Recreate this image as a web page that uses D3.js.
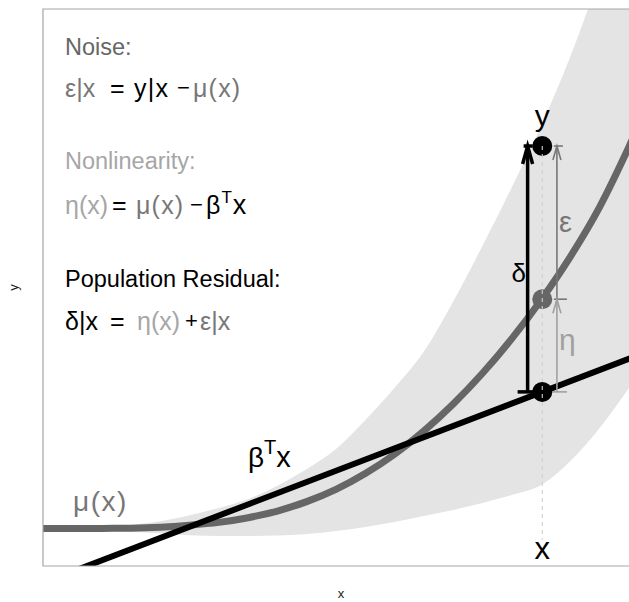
<!DOCTYPE html>
<html><head><meta charset="utf-8">
<script src="https://cdn.jsdelivr.net/npm/d3@7"></script>
<style>body{margin:0;background:#fff}svg{display:block}</style>
</head><body>
<svg id="chart" width="629" height="602"></svg>
<script>
// ---- data ----
const xs     = [0,0.5,1,1.5,2,2.5,3,3.5,4,4.5,5,5.5,6,6.5,7,7.5,8,8.5,9,9.5,10,10.5];
const muY    = [0.673,0.673,0.675,0.679,0.695,0.731,0.783,0.867,0.987,1.156,1.377,1.661,2.007,2.424,2.908,3.460,4.081,4.776,5.555,6.449,7.528,8.711];
const bandLo = [0.673,0.673,0.657,0.616,0.587,0.551,0.539,0.539,0.547,0.575,0.628,0.701,0.790,0.898,1.005,1.131,1.274,1.454,1.885,2.478,3.196,3.950];
const bandHi = [0.673,0.673,0.693,0.742,0.803,0.911,1.041,1.203,1.440,1.740,2.100,2.620,3.200,3.850,4.750,5.750,6.800,7.900,9.150,10.600,12.200,13.900];
const lineX  = [0, 10.5];
const lineY  = [-0.302, 3.923];
const pointX = 8.52, pointY = 7.54, pointMu = 4.79, pointLin = 3.126;
const armOffset = 0.25;
const dashBottom = 0.47;

const font = "'Liberation Sans', Arial, Helvetica, sans-serif";
const svg = d3.select("#chart");
const panel = {left:43, top:9, bottom:566, right:639};
const x = d3.scaleLinear().domain([0,10]).range([43,629]);
const y = d3.scaleLinear().domain([0,10]).range([566,9]);

svg.append("defs").append("clipPath").attr("id","clip")
  .append("rect").attr("x",panel.left).attr("y",panel.top)
  .attr("width",panel.right-panel.left).attr("height",panel.bottom-panel.top);
const g = svg.append("g").attr("clip-path","url(#clip)");

const curveData = xs.map((d,i)=>({x:d, mu:muY[i], lo:bandLo[i], hi:bandHi[i]}));

// band
g.append("path").datum(curveData)
  .attr("d", d3.area().x(d=>x(d.x)).y0(d=>y(d.lo)).y1(d=>y(d.hi)).curve(d3.curveMonotoneX))
  .attr("fill","#e4e4e4");

// mu curve
g.append("path").datum(curveData)
  .attr("d", d3.line().x(d=>x(d.x)).y(d=>y(d.mu)).curve(d3.curveMonotoneX))
  .attr("fill","none").attr("stroke","#666").attr("stroke-width",7);

// linear fit
g.append("path").datum(lineX.map((d,i)=>[d,lineY[i]]))
  .attr("d", d3.line().x(d=>x(d[0])).y(d=>y(d[1])))
  .attr("fill","none").attr("stroke","#000").attr("stroke-width",6);

// arrows
function arrow(xv, v0, v1, color, sw, headLen, headHalf, bar0, bar1){
  const xp = x(xv), p0 = y(v0), p1 = y(v1);
  const a = g.append("g").attr("stroke",color).attr("fill","none").attr("stroke-width",sw);
  a.append("line").attr("x1",xp).attr("x2",xp).attr("y1",p0).attr("y2",p1);
  a.append("path").attr("d",`M${xp-headHalf},${p1+headLen}L${xp},${p1}L${xp+headHalf},${p1+headLen}`);
  if(bar0) a.append("line").attr("x1",xp+bar0[0]).attr("x2",xp+bar0[1]).attr("y1",p0).attr("y2",p0);
  if(bar1) a.append("line").attr("x1",xp+bar1[0]).attr("x2",xp+bar1[1]).attr("y1",p1).attr("y2",p1);
}
arrow(pointX-armOffset, pointLin, pointY, "#000", 3.5, 18, 5, [-10,7], [-4,5]);
arrow(pointX+armOffset, pointMu, pointY, "#777", 1.6, 14, 4, [-3,10], [-3,6]);
arrow(pointX+armOffset, pointLin, pointMu, "#a0a0a0", 1.6, 14, 4, [-10,10], null);

// points
g.append("circle").attr("cx",x(pointX)).attr("cy",y(pointY)).attr("r",10).attr("fill","#000");
g.append("circle").attr("cx",x(pointX)).attr("cy",y(pointMu)).attr("r",10).attr("fill","#666");
g.append("circle").attr("cx",x(pointX)).attr("cy",y(pointLin)).attr("r",10).attr("fill","#000");

// dashed guide
g.append("line").attr("x1",x(pointX)).attr("x2",x(pointX))
  .attr("y1",y(pointY)).attr("y2",y(dashBottom))
  .attr("stroke","#cfcfcf").attr("stroke-width",1.1).attr("stroke-dasharray","4,4");

// frame (left, top, bottom)
svg.append("path")
  .attr("d",`M${panel.right},${panel.top}H${panel.left}V${panel.bottom}H${panel.right}`)
  .attr("fill","none").attr("stroke","#a6a6a6").attr("stroke-width",1.2);

// labels
function txt(t, xp, yp, size, color, anchor){
  return svg.append("text").attr("x",xp).attr("y",yp).attr("font-family",font)
    .attr("font-size",size).attr("fill",color).attr("text-anchor",anchor||"start").text(t);
}
txt("y", x(pointX), 126, 30, "#000", "middle");
txt("x", x(pointX), 559, 31, "#000", "middle");
txt("δ", x(pointX-armOffset)-9, 282, 26, "#000", "middle");
txt("ε", x(pointX+armOffset)+2, 232, 29, "#777");
txt("η", x(pointX+armOffset)+2, 350, 30, "#a0a0a0");
txt("μ(x)", 73, 511, 28, "#777").attr("letter-spacing",1.5);
const bt = txt("β", 248, 467, 28, "#000");
bt.append("tspan").attr("dy",-13).attr("font-size",20).text("T");
bt.append("tspan").attr("dy",13).attr("font-size",29).text("x");

// legend text block
const headers = [
  {t:"Noise:", y:55, c:"#666"},
  {t:"Nonlinearity:", y:169, c:"#a6a6a6"},
  {t:"Population Residual:", y:287, c:"#000"}
];
headers.forEach(h=>txt(h.t, 65, h.y, 23.5, h.c));

// [text, start x, colour, operator?]
const eqs = [
  {y:97, parts:[["ε|x",65,"#777"],["=",110,"#000"],["y|x",134,"#000"],["−",177,"#000",1],["μ(x)",193,"#777"]]},
  {y:214, parts:[["η(x)",65,"#a6a6a6"],["=",112,"#000"],["μ(x)",136,"#777"],["−",190,"#000",1]]},
  {y:330, parts:[["δ|x",65,"#000"],["=",110,"#000"],["η(x)",137,"#a6a6a6"],["+",185,"#000",1],["ε|x",200,"#777"]]}
];
eqs.forEach(e=>e.parts.forEach(p=>{
  if(p[3]) txt(p[0], p[1], e.y-2, 22, p[2]);
  else {
    const t = txt(p[0], p[1], e.y, 25, p[2]);
    if(p[0]==="y|x" || p[0]==="μ(x)") t.attr("letter-spacing",1.2);
  }
}));
const b2 = txt("β", 206, 214, 25, "#000");
b2.append("tspan").attr("dx",1).attr("dy",-11).attr("font-size",17).text("T");
b2.append("tspan").attr("dx",1).attr("dy",11).attr("font-size",27).text("x");

// axis titles
txt("x", (panel.left+panel.right)/2, 598, 13, "#1a1a1a", "middle");
svg.append("text").attr("transform",`translate(18,${(panel.top+panel.bottom)/2}) rotate(-90)`)
  .attr("font-family",font).attr("font-size",13).attr("fill","#1a1a1a")
  .attr("text-anchor","middle").text("y");
</script>
</body></html>
